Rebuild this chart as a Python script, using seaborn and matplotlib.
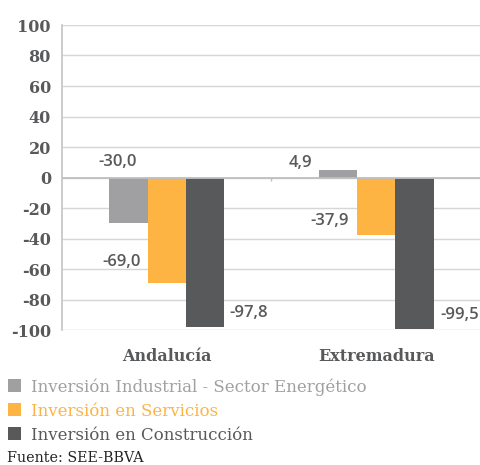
import matplotlib
matplotlib.use("Agg")
import matplotlib.pyplot as plt
from matplotlib.patches import Patch
import seaborn as sns
import pandas as pd

regiones = ["Andalucía", "Extremadura"]
series = ["Inversión Industrial - Sector Energético",
          "Inversión en Servicios",
          "Inversión en Construcción"]
energetico = [-30.0, 4.9]
servicios = [-69.0, -37.9]
construccion = [-97.8, -99.5]
yticks = [100, 80, 60, 40, 20, 0, -20, -40, -60, -80, -100]
fuente = "Fuente: SEE-BBVA"

colores = ["#a0a0a3", "#fdb443", "#58595b"]
texto = "#58595b"

df = pd.DataFrame({
    "region": regiones * 3,
    "serie": [s for s in series for _ in regiones],
    "valor": energetico + servicios + construccion,
})

sns.set_theme(style="white")
plt.rcParams["font.family"] = ["DejaVu Serif"]
plt.rcParams["axes.unicode_minus"] = False

fig = plt.figure(figsize=(4.81, 4.65), dpi=100)
ax = fig.add_axes([62 / 481, 1 - 330 / 465, 1 - 62 / 481, 305 / 465])

sns.barplot(data=df, x="region", y="valor", hue="serie", hue_order=series,
            order=regiones, palette=colores, width=0.55, gap=0,
            saturation=1, ax=ax, legend=False, linewidth=0)

ax.set_ylim(-100, 100)
ax.set_yticks(yticks)
ax.set_xlim(-0.5, 1.5)
ax.yaxis.grid(True, color="#d6d6d6", linewidth=1)
ax.set_axisbelow(True)
ax.axhline(0, color="#bfbfbf", linewidth=1.3, zorder=1)
ax.vlines(0.5, -2.5, 0, color="#bfbfbf", linewidth=1)

for side in ["top", "right", "bottom"]:
    ax.spines[side].set_visible(False)
ax.spines["left"].set_color("#c4c4c4")
ax.spines["left"].set_linewidth(1.2)
ax.tick_params(axis="y", length=4, width=1, color="#c4c4c4", pad=4,
               labelsize=11.5, labelcolor=texto)
ax.tick_params(axis="x", length=0, pad=13, labelsize=11.5, labelcolor=texto)
for t in ax.get_yticklabels() + ax.get_xticklabels():
    t.set_fontweight("bold")
ax.set_xlabel("")
ax.set_ylabel("")

# value labels placed around each bar end (offsets in pixels)
offsets = [
    [(-11, 61), (-37, 7.5)],
    [(-45.5, 21), (-47, 14)],
    [(44, 14), (45.5, 14)],
]
for cont, vals, offs in zip(ax.containers, [energetico, servicios, construccion], offsets):
    for bar, v, (dx, dy) in zip(cont, vals, offs):
        xc = bar.get_x() + bar.get_width() / 2
        ax.annotate(f"{v:.1f}".replace(".", ","), (xc, v),
                    xytext=(dx, dy), textcoords="offset pixels",
                    ha="center", va="center", fontsize=12, fontweight="semibold",
                    color=texto, family=["Open Sans", "DejaVu Sans"],
                    annotation_clip=False)

handles = [Patch(facecolor=c, edgecolor="none") for c in colores]
fig.legend(handles, series, loc="upper left",
           bbox_to_anchor=(8 / 481, 1 - 378 / 465),
           frameon=False, fontsize=12, labelcolor=colores,
           handlelength=0.8, handleheight=0.8, handletextpad=0.6,
           labelspacing=0.42, borderaxespad=0, borderpad=0)

fig.text(7 / 481, 1 - 458 / 465, fuente, fontsize=10.3, color="#222222",
         ha="left", va="center")

fig.savefig("out.png", dpi=100)
